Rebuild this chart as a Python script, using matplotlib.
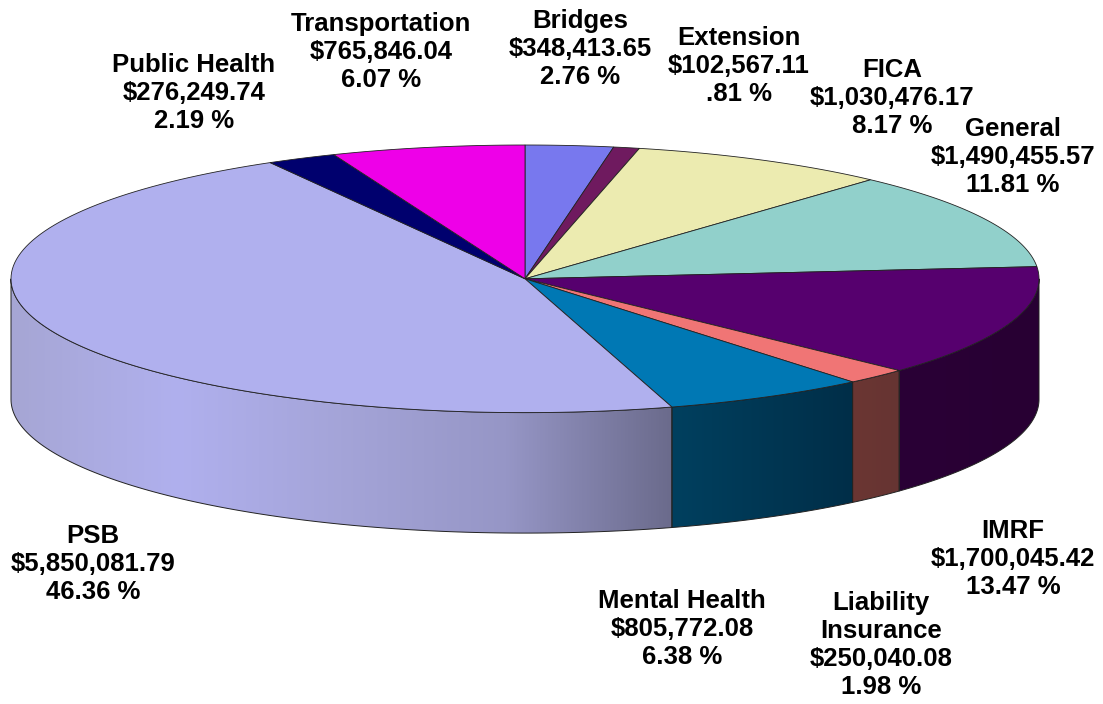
import matplotlib
matplotlib.use('Agg')
import matplotlib.pyplot as plt
import numpy as np
from matplotlib.colors import LinearSegmentedColormap
from matplotlib.patches import Polygon

names = ['Bridges', 'Extension', 'FICA', 'General', 'IMRF', 'Liability\nInsurance',
         'Mental Health', 'PSB', 'Public Health', 'Transportation']
amounts = [348413.65, 102567.11, 1030476.17, 1490455.57, 1700045.42, 250040.08,
           805772.08, 5850081.79, 276249.74, 765846.04]
pct_labels = ['2.76 %', '.81 %', '8.17 %', '11.81 %', '13.47 %', '1.98 %',
              '6.38 %', '46.36 %', '2.19 %', '6.07 %']
top_colors = ['#7878ee', '#6f1a5f', '#ecebb0', '#91d0cb', '#56006e', '#f07575',
              '#0078b4', '#b0b0ee', '#00006e', '#ee00e8']
# side colours, left to right across each slice
side_colors = {
    'IMRF': ['#2a0036', '#280033'],
    'Liability\nInsurance': ['#6b3633', '#663432'],
    'Mental Health': ['#00405f', '#002e48'],
    'PSB': ['#a6a6d4', '#b0b0ee', '#a4a4d8', '#9696c6', '#6b6b8c'],
}
# label centres in pixels
label_pos = [(580, 49), (739, 66), (892, 98), (1013, 157), (1013, 559), (881, 645),
             (682, 629), (93, 564), (194, 93), (381, 52)]

cx, cy, a, b, depth = 525, 278.8, 514, 133.8, 120.5


def arc(t0, t1, dy=0):
    t = np.linspace(t0, t1, 120)
    return np.column_stack([cx + a * np.sin(t), cy - b * np.cos(t) + dy])


fig, ax = plt.subplots(figsize=(11.03, 7.04), dpi=100)
ax.set_position([0, 0, 1, 1])
ax.set_axis_off()

edges = np.concatenate([[0], np.cumsum(amounts)]) / np.sum(amounts) * 2 * np.pi

# sides of the front half
for i, name in enumerate(names):
    t0, t1 = max(edges[i], np.pi / 2), min(edges[i + 1], 3 * np.pi / 2)
    if t0 >= t1 or name not in side_colors:
        continue
    pts = np.vstack([arc(t0, t1), arc(t1, t0, depth)])
    poly = Polygon(pts, closed=True, facecolor='none', edgecolor='#222222', linewidth=0.7, zorder=2)
    ax.add_patch(poly)
    cmap = LinearSegmentedColormap.from_list('side', side_colors[name])
    grad = np.linspace(0, 1, 256).reshape(1, -1)
    im = ax.imshow(grad, cmap=cmap, aspect='auto', zorder=1,
                   extent=[pts[:, 0].min(), pts[:, 0].max(), pts[:, 1].max(), pts[:, 1].min()])
    im.set_clip_path(poly)
ax.set_xlim(0, 1103)
ax.set_ylim(704, 0)

# top face
for i, color in enumerate(top_colors):
    pts = np.vstack([[cx, cy], arc(edges[i], edges[i + 1])])
    ax.add_patch(Polygon(pts, closed=True, facecolor=color, edgecolor='#222222',
                         linewidth=0.6, zorder=3))

for name, amount, pct, (x, y) in zip(names, amounts, pct_labels, label_pos):
    ax.text(x, y, f'{name}\n${amount:,.2f}\n{pct}', ha='center', va='center', color='black',
            family='Liberation Sans', weight='bold', fontsize=18.5, linespacing=1.22, zorder=5)

fig.savefig('out.png', dpi=100)
